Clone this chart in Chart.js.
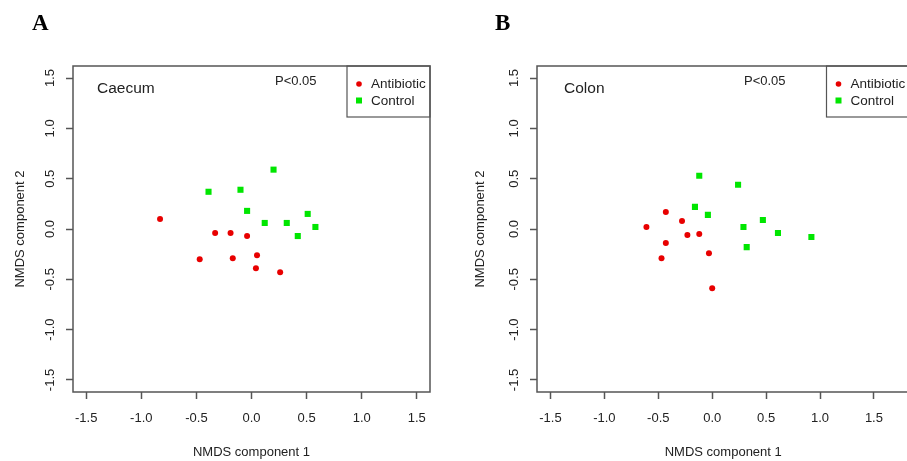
<!DOCTYPE html>
<html>
<head>
<meta charset="utf-8">
<script src="https://cdn.jsdelivr.net/npm/chart.js@4.4.0/dist/chart.umd.min.js"></script>
<style>
  html, body { margin: 0; padding: 0; background: #fff; overflow: hidden; }
  #wrap { position: relative; width: 907px; height: 461px; overflow: hidden; }
  canvas { position: absolute; top: 0; }
  #caecum { left: 0; }
  #colon { left: 460px; }
</style>
</head>
<body>
<div id="wrap">
  <canvas id="caecum" width="460" height="461"></canvas>
  <canvas id="colon" width="470" height="461"></canvas>
</div>
<script>
const tickValues = [-1.5, -1.0, -0.5, 0.0, 0.5, 1.0, 1.5];
const seriesNames = ['Antibiotic', 'Control'];

// Caecum (panel A)
const caecumAntibioticX = [-0.83, -0.33, -0.19, -0.04, -0.47, -0.17, 0.05, 0.04, 0.26];
const caecumAntibioticY = [0.10, -0.04, -0.04, -0.07, -0.30, -0.29, -0.26, -0.39, -0.43];
const caecumControlX = [0.20, -0.39, -0.10, -0.04, 0.12, 0.32, 0.51, 0.58, 0.42];
const caecumControlY = [0.59, 0.37, 0.39, 0.18, 0.06, 0.06, 0.15, 0.02, -0.07];

// Colon (panel B)
const colonAntibioticX = [-0.61, -0.43, -0.28, -0.23, -0.12, -0.43, -0.47, -0.03, 0.00];
const colonAntibioticY = [0.02, 0.17, 0.08, -0.06, -0.05, -0.14, -0.29, -0.24, -0.59];
const colonControlX = [-0.12, 0.24, -0.16, -0.04, 0.47, 0.29, 0.61, 0.92, 0.32];
const colonControlY = [0.53, 0.44, 0.22, 0.14, 0.09, 0.02, -0.04, -0.08, -0.18];

const pValueText = 'P<0.05';
const red = '#e80000';
const green = '#00e600';
const ink = '#222';
const lineCol = '#555';
const sans = "'Liberation Sans', Arial, sans-serif";

function toPoints(xs, ys) {
    return xs.map((x, i) => ({ x: x, y: ys[i] }));
}

// box, panel letter, labels, y tick labels and legend drawn on top
const panelDecor = {
    id: 'panelDecor',
    afterDraw(chart, args, opts) {
        const ctx = chart.ctx;
        const a = chart.chartArea;
        ctx.save();
        ctx.strokeStyle = lineCol;
        ctx.lineWidth = 1.5;
        ctx.strokeRect(a.left, a.top, a.right - a.left, a.bottom - a.top);

        ctx.fillStyle = '#000';
        ctx.font = "bold 23px 'Liberation Serif', 'Times New Roman', serif";
        ctx.textAlign = 'left';
        ctx.textBaseline = 'alphabetic';
        ctx.fillText(opts.letter, opts.letterX, 30);

        ctx.fillStyle = ink;
        ctx.textBaseline = 'middle';
        ctx.font = '15.5px ' + sans;
        ctx.fillText(opts.title, a.left + opts.titleDx, a.top + 23);
        ctx.font = '13px ' + sans;
        ctx.fillText(pValueText, a.left + opts.pDx, a.top + 15);

        // y tick labels, rotated like R
        const ys = chart.scales.y;
        ctx.font = '13px ' + sans;
        ctx.textAlign = 'center';
        ys.ticks.forEach(t => {
            const py = ys.getPixelForValue(t.value);
            ctx.save();
            ctx.translate(a.left - 23, py);
            ctx.rotate(-Math.PI / 2);
            ctx.fillText(t.value.toFixed(1), 0, 0);
            ctx.restore();
        });

        // legend
        const lw = 83, lh = 51;
        const lx = a.right - lw, ly = a.top;
        ctx.strokeStyle = lineCol;
        ctx.lineWidth = 1.2;
        ctx.strokeRect(lx, ly, lw, lh);
        ctx.textAlign = 'left';
        ctx.font = '13.5px ' + sans;
        ctx.fillStyle = red;
        ctx.beginPath();
        ctx.arc(lx + 12, ly + 18, 2.8, 0, Math.PI * 2);
        ctx.fill();
        ctx.fillStyle = green;
        ctx.fillRect(lx + 9, ly + 31.5, 6, 6);
        ctx.fillStyle = ink;
        ctx.fillText(seriesNames[0], lx + 24, ly + 18.5);
        ctx.fillText(seriesNames[1], lx + 24, ly + 35);
        ctx.restore();
    }
};

function drawPanel(canvasId, panel, antibioticPts, controlPts) {
    const ctx = document.getElementById(canvasId).getContext('2d');
    const data = {
        datasets: [{
            label: seriesNames[0],
            data: antibioticPts,
            pointStyle: 'circle',
            pointRadius: 3,
            pointBorderWidth: 0,
            backgroundColor: red,
            borderColor: red,
        }, {
            label: seriesNames[1],
            data: controlPts,
            pointStyle: 'rect',
            pointRadius: 4.3,
            pointBorderWidth: 0,
            backgroundColor: green,
            borderColor: green,
        }]
    };
    let myChart = new Chart(ctx, {
        type: 'scatter',
        data: data,
        plugins: [panelDecor],
        options: {
            responsive: false,
            animation: false,
            events: [],
            layout: { padding: { top: 66, right: panel.padRight, left: 0, bottom: 0 } },
            plugins: {
                legend: { display: false },
                tooltip: { enabled: false },
                panelDecor: panel,
            },
            scales: {
                x: {
                    type: 'linear',
                    min: panel.xMin,
                    max: panel.xMax,
                    afterBuildTicks: (s) => { s.ticks = tickValues.map(v => ({ value: v })); },
                    afterFit: (s) => { s.height = 69; },
                    grid: { drawOnChartArea: false, drawTicks: true, tickLength: 7, tickColor: lineCol, tickWidth: 1.5 },
                    border: { display: false },
                    ticks: {
                        autoSkip: false, maxRotation: 0, padding: 12, color: ink,
                        font: { family: sans, size: 13 },
                        callback: (v) => Number(v).toFixed(1),
                    },
                    title: {
                        display: true, text: 'NMDS component 1', color: ink,
                        font: { family: sans, size: 13 }, padding: { top: 0, bottom: 1 },
                    },
                },
                y: {
                    type: 'linear',
                    min: -1.62,
                    max: 1.62,
                    afterBuildTicks: (s) => { s.ticks = tickValues.map(v => ({ value: v })); },
                    afterFit: (s) => { s.width = panel.yAxisWidth; },
                    grid: { drawOnChartArea: false, drawTicks: true, tickLength: 7, tickColor: lineCol, tickWidth: 1.5 },
                    border: { display: false },
                    ticks: { display: false },
                    title: {
                        display: true, text: 'NMDS component 2', color: ink,
                        font: { family: sans, size: 13 }, padding: { top: 13, bottom: 0 },
                    },
                },
            },
        },
    });
}

drawPanel('caecum', {
    letter: 'A', letterX: 32, title: 'Caecum', titleDx: 24, pDx: 202,
    yAxisWidth: 73, padRight: 30, xMin: -1.62, xMax: 1.62,
}, toPoints(caecumAntibioticX, caecumAntibioticY), toPoints(caecumControlX, caecumControlY));

drawPanel('colon', {
    letter: 'B', letterX: 35, title: 'Colon', titleDx: 27, pDx: 207,
    yAxisWidth: 77, padRight: 20.5, xMin: -1.625, xMax: 1.83,
}, toPoints(colonAntibioticX, colonAntibioticY), toPoints(colonControlX, colonControlY));
</script>
</body>
</html>
